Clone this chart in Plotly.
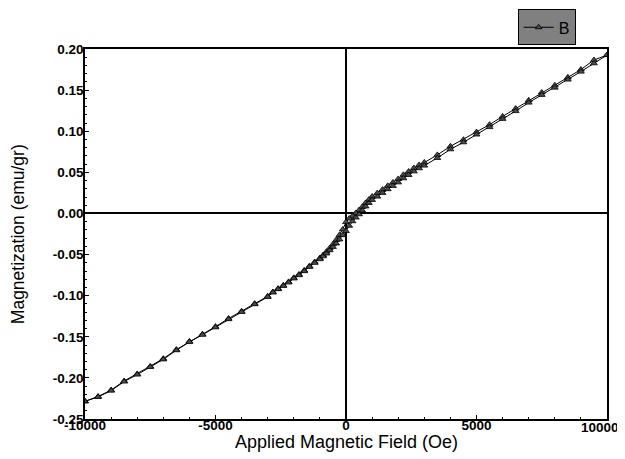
import plotly.graph_objects as go

# Descending branch (from +10000 Oe to -10000 Oe)
field_desc = [10000, 9500, 9000, 8500, 8000, 7500, 7000, 6500, 6000, 5500, 5000,
              4500, 4000, 3500, 3000, 2800, 2600, 2400, 2200, 2000, 1800, 1600,
              1400, 1200, 1000, 875, 750, 625, 500, 375, 250, 125, 0,
              -125, -250, -375, -500, -625, -750, -875, -1000, -1200, -1400,
              -1600, -1800, -2000, -2200, -2400, -2600, -2800, -3000, -3500,
              -4000, -4500, -5000, -5500, -6000, -6500, -7000, -7500, -8000,
              -8500, -9000, -9500, -10000]
mag_desc = [0.1926, 0.1866, 0.1750, 0.1655, 0.1558, 0.1472, 0.1376, 0.1275, 0.1180,
            0.1080, 0.0990, 0.0897, 0.0816, 0.0712, 0.0620, 0.0590, 0.0552, 0.0510,
            0.0470, 0.0420, 0.0377, 0.0336, 0.0290, 0.0248, 0.0205, 0.0168, 0.0128,
            0.0080, 0.0040, 0.0005, -0.0030, -0.0062, -0.0105,
            -0.0195, -0.0262, -0.0322, -0.0375, -0.0422, -0.0465, -0.0505, -0.0542,
            -0.0590, -0.0640, -0.0692, -0.0742, -0.0783, -0.0832, -0.0874, -0.0914,
            -0.0955, -0.1008, -0.1097, -0.1190, -0.1278, -0.1376, -0.1468, -0.1556,
            -0.1656, -0.1766, -0.1860, -0.1952, -0.2038, -0.2148, -0.2227, -0.2285]

# Ascending branch (from -10000 Oe to +10000 Oe)
field_asc = [-10000, -9500, -9000, -8500, -8000, -7500, -7000, -6500, -6000, -5500,
             -5000, -4500, -4000, -3500, -3000, -2800, -2600, -2400, -2200, -2000,
             -1800, -1600, -1400, -1200, -1000, -875, -750, -625, -500, -375, -250,
             -125, 0, 125, 250, 375, 500, 625, 750, 875, 1000, 1200, 1400, 1600,
             1800, 2000, 2200, 2400, 2600, 2800, 3000, 3500, 4000, 4500, 5000,
             5500, 6000, 6500, 7000, 7500, 8000, 8500, 9000, 9500, 10000]
mag_asc = [-0.2285, -0.2232, -0.2155, -0.2045, -0.1960, -0.1867, -0.1775, -0.1664,
           -0.1563, -0.1476, -0.1385, -0.1286, -0.1198, -0.1104, -0.1015, -0.0962,
           -0.0921, -0.0881, -0.0840, -0.0791, -0.0751, -0.0702, -0.0650, -0.0601,
           -0.0556, -0.0521, -0.0487, -0.0447, -0.0407, -0.0365, -0.0316, -0.0264,
           -0.0215, -0.0150, -0.0095, -0.0050, -0.0010, 0.0035, 0.0085, 0.0128,
           0.0165, 0.0205, 0.0250, 0.0295, 0.0335, 0.0378, 0.0428, 0.0468, 0.0512,
           0.0550, 0.0582, 0.0675, 0.0780, 0.0865, 0.0960, 0.1050, 0.1150, 0.1245,
           0.1348, 0.1442, 0.1530, 0.1628, 0.1725, 0.1826, 0.1926]

x_ticks = [-10000, -5000, 0, 5000, 10000]
y_ticks = [-0.25, -0.20, -0.15, -0.10, -0.05, 0.00, 0.05, 0.10, 0.15, 0.20]
x_title = "Applied Magnetic Field (Oe)"
y_title = "Magnetization (emu/gr)"

field = field_desc + field_asc
mag = mag_desc + mag_asc

fig = go.Figure()
fig.add_trace(go.Scatter(
    x=field, y=mag, mode="lines+markers", name="B",
    line=dict(color="black", width=1),
    marker=dict(symbol="triangle-up", size=6, color="#4a4a4a",
                line=dict(color="black", width=0.8)),
))

font_family = "Liberation Sans, Arial, sans-serif"
# page body has an 8px margin, so the figure is 8px smaller than the window
fig.update_layout(
    width=617, height=451,
    margin=dict(l=77, r=18, t=41, b=40, autoexpand=False),
    paper_bgcolor="white", plot_bgcolor="white",
    font=dict(family=font_family, color="black"),
    showlegend=True,
    legend=dict(xref="container", yref="container",
                x=0.826, y=0.997, xanchor="left", yanchor="top",
                bgcolor="#808080", bordercolor="black", borderwidth=1,
                font=dict(size=16, color="black"),
                itemwidth=30, tracegroupgap=0),
)
# the last x tick label runs past the page edge, so it is drawn as an annotation
x_ticktext = ["<b>%d</b>" % v if v != x_ticks[-1] else "" for v in x_ticks]
fig.update_xaxes(
    range=[-10000, 10000], tickvals=x_ticks, ticktext=x_ticktext,
    automargin=False,
    showgrid=False, zeroline=True, zerolinecolor="black", zerolinewidth=1.5,
    showline=True, mirror=True, linecolor="black", linewidth=1.5,
    ticks="inside", ticklen=4, tickcolor="black",
    tickfont=dict(size=13.5, family=font_family),
    ticklabelstandoff=-7,
    minor=dict(dtick=1000, ticks="inside", ticklen=2, tickcolor="black"),
)
fig.update_yaxes(
    range=[-0.25, 0.20], tickvals=y_ticks,
    ticktext=["<b>%.2f</b>" % v for v in y_ticks],
    automargin=False,
    showgrid=False, zeroline=True, zerolinecolor="black", zerolinewidth=1.5,
    showline=True, mirror=True, linecolor="black", linewidth=1.5,
    ticks="inside", ticklen=4, tickcolor="black",
    tickfont=dict(size=13.5, family=font_family),
    ticklabelstandoff=-3,
    minor=dict(dtick=0.01, ticks="inside", ticklen=2, tickcolor="black"),
)
fig.add_annotation(x=1.027, xref="paper", y=0, yref="paper",
                   text="<b>%d</b>" % x_ticks[-1], showarrow=False,
                   xanchor="right", yanchor="top", yshift=1,
                   font=dict(size=13.5, family=font_family))
fig.add_annotation(x=0.5, xref="paper", y=-0.0625, yref="paper",
                   text=x_title, showarrow=False,
                   xanchor="center", yanchor="middle",
                   font=dict(size=18, family=font_family))
fig.add_annotation(x=-0.128, xref="paper", y=0.5, yref="paper",
                   text=y_title, showarrow=False, textangle=-90,
                   xanchor="center", yanchor="middle",
                   font=dict(size=17.5, family=font_family))

fig.write_html("out.html")
